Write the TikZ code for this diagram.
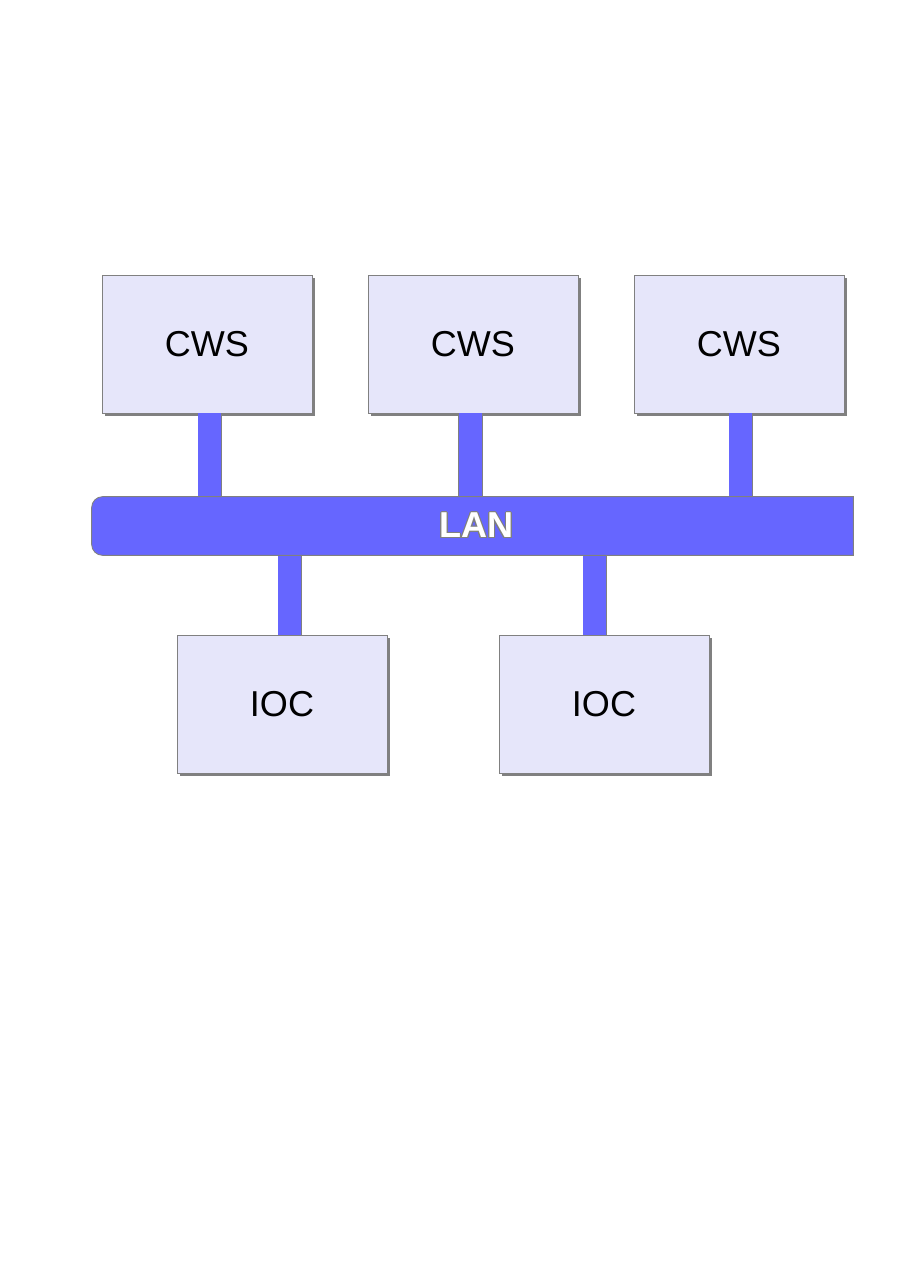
\documentclass[tikz,border=0pt]{standalone}
\usepackage{fontspec}
\setmainfont{Liberation Sans}
\usepackage{contour}
\contourlength{0.6pt}
\usetikzlibrary{shadows}
\definecolor{boxfill}{RGB}{230,230,250}
\definecolor{lanblue}{RGB}{102,102,255}
\definecolor{edgegray}{RGB}{128,128,128}
\tikzset{
  station/.style={draw=edgegray, line width=0.5pt, fill=boxfill, minimum width=4.2cm, minimum height=2.76cm,
    inner sep=0pt, font=\fontsize{20.5}{24}\selectfont,
    drop shadow={shadow xshift=0.06cm, shadow yshift=-0.06cm, fill=edgegray, opacity=1}},
  stub/.style={draw=edgegray, line width=0.4pt, double=lanblue, double distance=0.46cm},
  lanbar/.style={draw=edgegray, line width=0.5pt, fill=lanblue}
}
\begin{document}
\begin{tikzpicture}[scale=0.2]
\useasboundingbox (0,0) rectangle (90.1,-127.4);
\node [station] (cws1) at (20.7,-34.4) {CWS};
\node [station] (cws2) at (47.3,-34.4) {CWS};
\node [station] (cws3) at (73.9,-34.4) {CWS};
\node [station] (ioc1) at (28.2,-70.4) {IOC};
\node [station] (ioc2) at (60.4,-70.4) {IOC};
\node [minimum width=15.22cm, minimum height=1.16cm, inner sep=0pt] (lan) at (47.25,-52.6) {};
\draw [stub] ([xshift=0.3cm]cws1.south) -- ([xshift=0.3cm]cws1.south |- lan.north);
\draw [stub] ([xshift=-0.25cm]cws2.south) -- ([xshift=-0.25cm]cws2.south |- lan.north);
\draw [stub] ([xshift=0.2cm]cws3.south) -- ([xshift=0.2cm]cws3.south |- lan.north);
\draw [stub] ([xshift=0.8cm]ioc1.north) -- ([xshift=0.8cm]ioc1.north |- lan.south);
\draw [stub] ([xshift=-0.9cm]ioc2.north) -- ([xshift=-0.9cm]ioc2.north |- lan.south);
\draw [lanbar] (lan.north) [rounded corners=0.22cm] -- (lan.north west) -- (lan.south west) -- (lan.south)
  [sharp corners] -- (lan.south east) -- (lan.north east) -- cycle;
\node [text=white, font=\bfseries\fontsize{20.5}{24}\selectfont] (lanlabel) at ([xshift=0.4cm]lan.center) {\contour{edgegray}{LAN}};
\end{tikzpicture}
\end{document}
